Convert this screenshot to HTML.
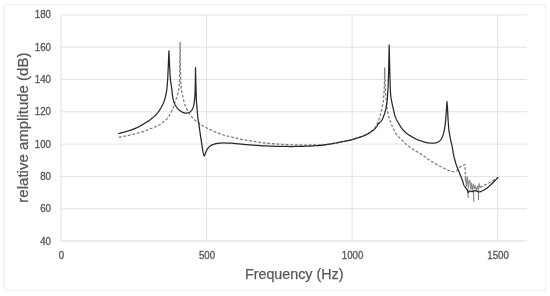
<!DOCTYPE html>
<html><head><meta charset="utf-8"><style>
html,body{margin:0;padding:0;background:#fff;}
svg{display:block;will-change:transform;}
text{font-family:"Liberation Sans",sans-serif;}
</style></head><body>
<svg width="550" height="296" viewBox="0 0 550 296">
<rect x="0" y="0" width="550" height="296" fill="#fff"/>
<rect x="4" y="4.5" width="541.5" height="286.2" rx="2" fill="none" stroke="#efefef" stroke-width="1.2"/>
<g stroke="#e3e3e3" stroke-width="1" fill="none">
<line x1="61" y1="208.70" x2="527" y2="208.70"/><line x1="61" y1="176.40" x2="527" y2="176.40"/><line x1="61" y1="144.10" x2="527" y2="144.10"/><line x1="61" y1="111.80" x2="527" y2="111.80"/><line x1="61" y1="79.50" x2="527" y2="79.50"/><line x1="61" y1="47.20" x2="527" y2="47.20"/><line x1="61" y1="14.90" x2="527" y2="14.90"/><line x1="206.62" y1="14.90" x2="206.62" y2="241.00"/><line x1="352.15" y1="14.90" x2="352.15" y2="241.00"/><line x1="497.68" y1="14.90" x2="497.68" y2="241.00"/>
</g>
<line x1="61.10" y1="14.90" x2="61.10" y2="241.00" stroke="#e0e0e0" stroke-width="1"/>
<line x1="61" y1="241.00" x2="527" y2="241.00" stroke="#d9d9d9" stroke-width="1"/>
<g fill="#595959" font-size="9.7" stroke="#595959" stroke-width="0.3">
<text transform="translate(51.0,244.50) scale(1,1.13)" text-anchor="end">40</text><text transform="translate(51.0,212.20) scale(1,1.13)" text-anchor="end">60</text><text transform="translate(51.0,179.90) scale(1,1.13)" text-anchor="end">80</text><text transform="translate(51.0,147.60) scale(1,1.13)" text-anchor="end">100</text><text transform="translate(51.0,115.30) scale(1,1.13)" text-anchor="end">120</text><text transform="translate(51.0,83.00) scale(1,1.13)" text-anchor="end">140</text><text transform="translate(51.0,50.70) scale(1,1.13)" text-anchor="end">160</text><text transform="translate(51.0,18.40) scale(1,1.13)" text-anchor="end">180</text>
<text transform="translate(61.50,258.5) scale(1,1.09)" text-anchor="middle">0</text><text transform="translate(207.02,258.5) scale(1,1.09)" text-anchor="middle">500</text><text transform="translate(352.55,258.5) scale(1,1.09)" text-anchor="middle">1000</text><text transform="translate(498.07,258.5) scale(1,1.09)" text-anchor="middle">1500</text>
</g>
<text x="294.2" y="278.7" text-anchor="middle" font-size="14.3" fill="#595959" stroke="#595959" stroke-width="0.25">Frequency (Hz)</text>
<text transform="translate(28.3,127.6) rotate(-90)" text-anchor="middle" font-size="15" fill="#595959" stroke="#595959" stroke-width="0.25">relative amplitude (dB)</text>
<g fill="none" stroke-linejoin="round" stroke-linecap="round">
<polyline points="118.80,137.30 119.58,137.15 120.34,137.01 121.10,136.87 121.86,136.73 122.63,136.59 123.42,136.44 124.24,136.28 125.10,136.10 126.26,135.86 127.48,135.60 128.75,135.33 130.06,135.05 131.38,134.75 132.70,134.44 134.02,134.13 135.30,133.80 136.60,133.46 137.93,133.09 139.28,132.71 140.61,132.33 141.91,131.93 143.16,131.55 144.33,131.17 145.40,130.80 146.07,130.56 146.68,130.31 147.27,130.07 147.82,129.83 148.36,129.59 148.90,129.36 149.44,129.13 150.00,128.90 150.56,128.68 151.13,128.47 151.69,128.27 152.25,128.07 152.82,127.86 153.38,127.65 153.94,127.43 154.50,127.20 155.07,126.96 155.65,126.72 156.22,126.47 156.78,126.22 157.36,125.95 157.93,125.66 158.51,125.35 159.10,125.00 159.85,124.50 160.64,123.93 161.45,123.31 162.25,122.66 163.04,122.01 163.79,121.38 164.48,120.80 165.10,120.30 165.44,120.03 165.76,119.80 166.05,119.58 166.33,119.38 166.60,119.17 166.86,118.94 167.13,118.69 167.40,118.40 167.76,117.96 168.12,117.47 168.48,116.95 168.83,116.39 169.17,115.81 169.52,115.22 169.86,114.61 170.20,114.00 170.59,113.29 170.99,112.55 171.38,111.78 171.77,111.00 172.15,110.21 172.52,109.41 172.87,108.60 173.20,107.80 173.51,106.97 173.80,106.11 174.07,105.23 174.32,104.35 174.57,103.48 174.81,102.64 175.06,101.84 175.30,101.10 175.48,100.61 175.66,100.16 175.83,99.75 176.01,99.34 176.18,98.93 176.35,98.50 176.52,98.03 176.70,97.50 176.99,96.56 177.30,95.53 177.62,94.42 177.94,93.24 178.24,92.00 178.53,90.71 178.78,89.37 179.00,88.00 179.22,86.06 179.38,84.00 179.48,81.85 179.55,79.61 179.58,77.29 179.61,74.91 179.65,72.47 179.70,70.00 179.77,66.83 179.84,63.51 179.89,60.08 179.93,56.57 179.97,53.01 180.01,49.44 180.05,45.89 180.10,42.40 180.15,45.89 180.19,49.44 180.23,53.01 180.27,56.57 180.31,60.08 180.36,63.51 180.43,66.83 180.50,70.00 180.56,72.49 180.61,74.96 180.66,77.40 180.73,79.76 180.80,82.03 180.90,84.17 181.03,86.17 181.20,88.00 181.33,89.05 181.47,90.01 181.63,90.91 181.79,91.76 181.96,92.59 182.14,93.41 182.32,94.24 182.50,95.10 182.68,96.00 182.87,96.92 183.06,97.84 183.26,98.76 183.46,99.67 183.67,100.55 183.88,101.40 184.10,102.20 184.27,102.81 184.45,103.39 184.62,103.95 184.80,104.49 184.98,105.02 185.18,105.55 185.38,106.07 185.60,106.60 185.83,107.13 186.07,107.64 186.32,108.16 186.58,108.66 186.85,109.17 187.13,109.68 187.41,110.19 187.70,110.70 188.01,111.25 188.33,111.80 188.65,112.36 188.98,112.92 189.32,113.47 189.67,114.02 190.03,114.57 190.40,115.10 190.79,115.64 191.19,116.18 191.61,116.72 192.03,117.25 192.47,117.76 192.91,118.27 193.35,118.75 193.80,119.20 194.21,119.58 194.63,119.95 195.05,120.29 195.48,120.63 195.91,120.95 196.34,121.26 196.77,121.58 197.20,121.90 197.63,122.21 198.06,122.52 198.49,122.83 198.93,123.14 199.36,123.43 199.79,123.73 200.20,124.02 200.60,124.30 200.92,124.54 201.23,124.77 201.52,124.99 201.81,125.21 202.10,125.43 202.41,125.65 202.74,125.88 203.10,126.10 203.64,126.41 204.24,126.72 204.87,127.03 205.53,127.35 206.20,127.66 206.88,127.97 207.55,128.29 208.20,128.60 208.84,128.92 209.47,129.24 210.11,129.56 210.75,129.88 211.38,130.20 212.02,130.51 212.66,130.81 213.30,131.10 213.92,131.37 214.55,131.63 215.18,131.89 215.81,132.14 216.43,132.38 217.06,132.62 217.68,132.86 218.30,133.10 218.88,133.33 219.44,133.56 219.99,133.79 220.54,134.01 221.10,134.24 221.70,134.46 222.32,134.68 223.00,134.90 224.07,135.21 225.23,135.52 226.47,135.82 227.76,136.12 229.08,136.42 230.41,136.71 231.72,137.01 233.00,137.30 234.25,137.60 235.50,137.90 236.75,138.20 238.00,138.50 239.24,138.79 240.50,139.08 241.75,139.35 243.00,139.60 244.25,139.83 245.50,140.05 246.75,140.25 248.00,140.44 249.25,140.63 250.50,140.82 251.75,141.00 253.00,141.20 254.23,141.40 255.44,141.61 256.63,141.82 257.83,142.03 259.05,142.23 260.31,142.43 261.62,142.62 263.00,142.80 264.90,143.02 266.90,143.22 268.98,143.41 271.13,143.59 273.32,143.76 275.54,143.91 277.78,144.06 280.00,144.20 282.42,144.34 284.88,144.48 287.38,144.60 289.90,144.71 292.43,144.81 294.96,144.89 297.49,144.95 300.00,145.00 302.56,145.03 305.20,145.04 307.87,145.04 310.53,145.02 313.12,144.98 315.59,144.93 317.90,144.87 320.00,144.80 321.24,144.75 322.38,144.70 323.46,144.64 324.48,144.58 325.48,144.51 326.47,144.42 327.47,144.32 328.50,144.20 329.55,144.06 330.61,143.89 331.66,143.71 332.70,143.52 333.75,143.32 334.80,143.11 335.85,142.90 336.90,142.70 337.98,142.49 339.08,142.28 340.20,142.05 341.31,141.83 342.40,141.61 343.46,141.39 344.46,141.19 345.40,141.00 346.05,140.87 346.67,140.76 347.27,140.65 347.85,140.54 348.41,140.44 348.95,140.33 349.48,140.22 350.00,140.10 350.41,140.00 350.80,139.89 351.18,139.78 351.54,139.67 351.91,139.56 352.29,139.45 352.68,139.33 353.10,139.20 353.67,139.03 354.27,138.86 354.89,138.68 355.53,138.49 356.17,138.30 356.82,138.10 357.47,137.90 358.10,137.70 358.74,137.49 359.38,137.28 360.02,137.07 360.66,136.86 361.30,136.63 361.93,136.40 362.57,136.16 363.20,135.90 363.85,135.62 364.51,135.34 365.17,135.04 365.82,134.73 366.47,134.41 367.10,134.08 367.71,133.75 368.30,133.40 368.81,133.08 369.29,132.75 369.77,132.42 370.23,132.08 370.68,131.72 371.12,131.36 371.56,130.99 372.00,130.60 372.46,130.18 372.93,129.76 373.39,129.32 373.84,128.87 374.28,128.41 374.71,127.93 375.12,127.42 375.50,126.90 375.89,126.30 376.26,125.66 376.60,124.99 376.93,124.30 377.25,123.61 377.54,122.92 377.83,122.24 378.10,121.60 378.32,121.08 378.52,120.57 378.71,120.09 378.89,119.60 379.07,119.11 379.24,118.60 379.42,118.07 379.60,117.50 379.85,116.69 380.11,115.84 380.37,114.94 380.63,114.01 380.89,113.07 381.14,112.11 381.38,111.15 381.60,110.20 381.82,109.22 382.03,108.23 382.23,107.24 382.42,106.24 382.61,105.23 382.78,104.20 382.94,103.16 383.10,102.10 383.26,100.90 383.41,99.68 383.55,98.44 383.68,97.18 383.80,95.90 383.91,94.62 384.01,93.31 384.10,92.00 384.19,90.55 384.26,89.08 384.31,87.58 384.36,86.07 384.40,84.55 384.43,83.03 384.46,81.51 384.50,80.00 384.53,78.49 384.56,76.98 384.59,75.47 384.61,73.95 384.63,72.44 384.65,70.93 384.68,69.41 384.70,67.90 384.76,70.07 384.82,72.28 384.87,74.51 384.93,76.74 384.99,78.92 385.05,81.05 385.12,83.08 385.20,85.00 385.26,86.38 385.33,87.70 385.40,88.97 385.47,90.20 385.55,91.41 385.63,92.60 385.71,93.79 385.80,95.00 385.89,96.16 385.98,97.32 386.08,98.48 386.18,99.62 386.28,100.75 386.38,101.87 386.49,102.95 386.60,104.00 386.69,104.87 386.78,105.72 386.88,106.55 386.97,107.37 387.07,108.17 387.17,108.96 387.28,109.73 387.40,110.50 387.51,111.17 387.62,111.83 387.73,112.48 387.85,113.12 387.97,113.75 388.10,114.37 388.24,114.99 388.40,115.60 388.56,116.17 388.74,116.73 388.92,117.28 389.11,117.82 389.31,118.37 389.51,118.91 389.71,119.45 389.90,120.00 390.09,120.56 390.28,121.11 390.46,121.66 390.65,122.21 390.84,122.77 391.05,123.34 391.27,123.91 391.50,124.50 391.80,125.22 392.12,125.97 392.46,126.74 392.82,127.51 393.18,128.29 393.55,129.05 393.93,129.79 394.30,130.50 394.63,131.11 394.95,131.71 395.27,132.29 395.59,132.86 395.93,133.42 396.29,133.98 396.68,134.54 397.10,135.10 397.63,135.75 398.21,136.39 398.83,137.04 399.47,137.67 400.13,138.31 400.80,138.94 401.46,139.57 402.10,140.20 402.73,140.83 403.36,141.46 403.99,142.10 404.62,142.73 405.26,143.35 405.90,143.96 406.55,144.54 407.20,145.10 407.82,145.60 408.45,146.08 409.09,146.54 409.73,146.98 410.37,147.42 411.02,147.85 411.66,148.27 412.30,148.70 412.92,149.12 413.55,149.53 414.18,149.94 414.80,150.34 415.43,150.74 416.06,151.13 416.68,151.52 417.30,151.90 417.89,152.25 418.47,152.57 419.05,152.89 419.63,153.20 420.21,153.52 420.80,153.86 421.39,154.21 422.00,154.60 422.72,155.10 423.44,155.64 424.16,156.20 424.90,156.79 425.65,157.39 426.43,158.00 427.25,158.60 428.10,159.20 429.24,159.95 430.44,160.72 431.71,161.50 433.01,162.29 434.34,163.07 435.67,163.83 437.00,164.58 438.30,165.30 439.58,165.99 440.92,166.70 442.27,167.40 443.62,168.08 444.93,168.73 446.18,169.32 447.35,169.85 448.40,170.30 448.98,170.54 449.53,170.76 450.04,170.96 450.53,171.14 451.00,171.30 451.47,171.43 451.93,171.53 452.40,171.60 452.81,171.63 453.23,171.64 453.64,171.62 454.05,171.59 454.44,171.54 454.82,171.47 455.17,171.39 455.50,171.30 455.72,171.23 455.92,171.16 456.10,171.08 456.28,170.99 456.45,170.89 456.63,170.78 456.81,170.65 457.00,170.50 457.32,170.20 457.64,169.82 457.98,169.39 458.32,168.93 458.66,168.47 459.01,168.03 459.36,167.63 459.70,167.30 459.96,167.10 460.22,166.92 460.49,166.77 460.75,166.63 461.01,166.50 461.28,166.37 461.54,166.24 461.80,166.10 462.05,165.95 462.31,165.81 462.57,165.65 462.82,165.50 463.08,165.36 463.33,165.23 463.57,165.11 463.80,165.00 463.97,164.93 464.14,164.87 464.30,164.82 464.46,164.78 464.62,164.73 464.78,164.69 464.94,164.65 465.10,164.60 465.40,181.00" stroke="#7f7f7f" stroke-width="1.3" stroke-dasharray="2.8 1.8" stroke-linecap="butt"/>
<polyline points="465.40,181.00 465.60,176.00 466.40,186.50 467.40,176.50 468.30,188.00 469.20,181.00 470.10,180.50 470.80,189.00 471.50,183.00 472.30,190.50 473.30,184.10 474.20,189.00 475.20,185.50 476.30,191.00 477.40,186.00 478.40,189.50 479.20,183.50 480.10,187.30" stroke="#8c8c8c" stroke-width="1.1"/>
<polyline points="480.10,187.30 480.72,186.99 481.35,186.68 481.97,186.37 482.60,186.05 483.22,185.74 483.85,185.43 484.47,185.12 485.10,184.80 485.74,184.48 486.37,184.16 487.01,183.85 487.65,183.53 488.29,183.20 488.93,182.88 489.57,182.54 490.20,182.20 490.85,181.84 491.52,181.45 492.20,181.06 492.87,180.66 493.52,180.27 494.15,179.89 494.75,179.53 495.30,179.20 495.66,178.99 495.99,178.79 496.30,178.60 496.61,178.42 496.90,178.24 497.20,178.06 497.49,177.88 497.80,177.70" stroke="#7f7f7f" stroke-width="1.3" stroke-dasharray="2.8 1.8" stroke-linecap="butt"/>
<polyline points="467.90,189.50 468.10,197.70" stroke="#707070" stroke-width="1.0"/><polyline points="473.60,190.50 473.80,201.40" stroke="#707070" stroke-width="1.0"/><polyline points="478.30,190.50 478.50,199.50" stroke="#707070" stroke-width="1.0"/>
<polyline points="118.80,133.60 119.59,133.37 120.39,133.15 121.19,132.92 121.99,132.69 122.79,132.46 123.57,132.24 124.34,132.02 125.10,131.80 125.76,131.61 126.41,131.43 127.05,131.25 127.69,131.07 128.32,130.88 128.94,130.70 129.57,130.50 130.20,130.30 130.84,130.09 131.48,129.87 132.12,129.64 132.76,129.41 133.40,129.17 134.03,128.93 134.67,128.67 135.30,128.40 135.95,128.11 136.61,127.80 137.26,127.49 137.92,127.17 138.57,126.83 139.22,126.49 139.86,126.15 140.50,125.80 141.13,125.45 141.76,125.09 142.39,124.72 143.01,124.35 143.63,123.97 144.25,123.58 144.87,123.19 145.50,122.80 146.16,122.38 146.83,121.97 147.51,121.54 148.18,121.11 148.85,120.67 149.52,120.23 150.17,119.77 150.80,119.30 151.41,118.83 152.01,118.36 152.60,117.87 153.18,117.38 153.75,116.88 154.31,116.36 154.86,115.84 155.40,115.30 155.93,114.75 156.45,114.19 156.95,113.62 157.45,113.03 157.93,112.44 158.40,111.83 158.86,111.22 159.30,110.60 159.72,109.97 160.13,109.32 160.53,108.66 160.91,107.99 161.27,107.31 161.63,106.64 161.97,105.97 162.30,105.30 162.60,104.67 162.89,104.04 163.18,103.41 163.45,102.78 163.70,102.15 163.95,101.53 164.18,100.91 164.40,100.30 164.58,99.75 164.75,99.22 164.91,98.69 165.06,98.16 165.20,97.63 165.33,97.10 165.47,96.55 165.60,96.00 165.74,95.41 165.88,94.81 166.01,94.22 166.14,93.62 166.26,93.00 166.38,92.37 166.49,91.70 166.60,91.00 166.74,90.02 166.87,88.98 166.99,87.91 167.10,86.79 167.21,85.64 167.31,84.45 167.41,83.24 167.50,82.00 167.61,80.41 167.71,78.75 167.80,77.04 167.88,75.28 167.96,73.49 168.04,71.67 168.12,69.84 168.20,68.00 168.29,65.93 168.38,63.82 168.47,61.68 168.55,59.51 168.64,57.33 168.73,55.14 168.81,52.96 168.90,50.80 169.00,52.97 169.10,55.17 169.19,57.38 169.29,59.58 169.39,61.77 169.49,63.91 169.59,65.99 169.70,68.00 169.79,69.64 169.87,71.26 169.96,72.84 170.05,74.39 170.14,75.90 170.25,77.38 170.36,78.81 170.50,80.20 170.63,81.30 170.77,82.36 170.93,83.38 171.09,84.38 171.25,85.37 171.41,86.35 171.56,87.32 171.70,88.30 171.81,89.23 171.91,90.16 172.01,91.10 172.10,92.02 172.19,92.93 172.28,93.81 172.39,94.67 172.50,95.50 172.60,96.15 172.69,96.77 172.78,97.38 172.88,97.97 172.98,98.55 173.10,99.13 173.24,99.71 173.40,100.30 173.58,100.91 173.78,101.53 173.99,102.14 174.22,102.75 174.46,103.36 174.72,103.95 175.00,104.53 175.30,105.10 175.62,105.65 175.96,106.21 176.32,106.75 176.70,107.28 177.08,107.80 177.48,108.29 177.89,108.76 178.30,109.20 178.67,109.56 179.06,109.91 179.45,110.24 179.86,110.55 180.26,110.84 180.65,111.11 181.03,111.37 181.40,111.60 181.66,111.76 181.91,111.91 182.15,112.05 182.39,112.17 182.63,112.29 182.87,112.40 183.13,112.50 183.40,112.60 183.73,112.71 184.08,112.83 184.44,112.93 184.80,113.03 185.18,113.11 185.55,113.17 185.93,113.20 186.30,113.20 186.70,113.17 187.11,113.10 187.52,113.01 187.94,112.89 188.35,112.75 188.75,112.59 189.14,112.40 189.50,112.20 189.86,111.96 190.21,111.70 190.54,111.41 190.86,111.10 191.17,110.77 191.47,110.42 191.74,110.06 192.00,109.70 192.24,109.32 192.47,108.93 192.67,108.53 192.85,108.11 193.03,107.67 193.19,107.21 193.35,106.72 193.50,106.20 193.71,105.36 193.90,104.45 194.07,103.46 194.22,102.43 194.35,101.36 194.48,100.27 194.59,99.18 194.70,98.10 194.81,96.92 194.89,95.74 194.96,94.55 195.02,93.34 195.07,92.10 195.11,90.80 195.15,89.44 195.20,88.00 195.26,85.79 195.31,83.40 195.35,80.87 195.38,78.24 195.41,75.56 195.44,72.87 195.47,70.20 195.50,67.60 195.56,70.19 195.62,72.82 195.69,75.48 195.75,78.13 195.81,80.74 195.87,83.27 195.94,85.70 196.00,88.00 196.05,89.67 196.09,91.27 196.13,92.81 196.17,94.31 196.21,95.78 196.27,97.22 196.33,98.66 196.40,100.10 196.48,101.42 196.57,102.74 196.67,104.04 196.77,105.33 196.87,106.60 196.98,107.85 197.09,109.08 197.20,110.30 197.29,111.37 197.39,112.43 197.48,113.47 197.57,114.50 197.67,115.51 197.77,116.52 197.88,117.51 198.00,118.50 198.12,119.40 198.25,120.28 198.39,121.15 198.54,122.01 198.68,122.88 198.83,123.74 198.97,124.61 199.10,125.50 199.23,126.44 199.36,127.40 199.48,128.36 199.60,129.33 199.72,130.30 199.84,131.27 199.97,132.24 200.10,133.20 200.24,134.14 200.38,135.08 200.53,136.00 200.68,136.93 200.83,137.87 200.98,138.82 201.14,139.79 201.30,140.80 201.49,142.05 201.68,143.38 201.88,144.75 202.08,146.14 202.28,147.52 202.48,148.84 202.69,150.08 202.90,151.20 203.05,151.90 203.19,152.56 203.34,153.18 203.50,153.77 203.65,154.35 203.80,154.92 203.95,155.50 204.10,156.10 204.23,155.88 204.35,155.66 204.48,155.45 204.61,155.23 204.74,155.01 204.86,154.79 204.98,154.55 205.10,154.30 205.23,153.98 205.35,153.63 205.46,153.27 205.57,152.91 205.68,152.53 205.80,152.15 205.94,151.77 206.10,151.40 206.31,150.96 206.53,150.51 206.77,150.06 207.03,149.60 207.30,149.15 207.58,148.71 207.88,148.29 208.20,147.90 208.52,147.54 208.86,147.19 209.22,146.85 209.59,146.53 209.97,146.23 210.37,145.94 210.78,145.66 211.20,145.40 211.66,145.14 212.15,144.90 212.64,144.68 213.16,144.48 213.68,144.29 214.21,144.11 214.75,143.95 215.30,143.80 215.90,143.66 216.51,143.54 217.13,143.43 217.77,143.35 218.41,143.27 219.04,143.21 219.68,143.15 220.30,143.10 220.88,143.06 221.45,143.03 222.02,143.01 222.58,143.00 223.15,142.99 223.74,142.99 224.35,142.99 225.00,143.00 225.89,143.01 226.83,143.03 227.81,143.05 228.81,143.08 229.84,143.13 230.89,143.17 231.94,143.23 233.00,143.30 234.20,143.39 235.42,143.51 236.67,143.63 237.93,143.77 239.20,143.91 240.47,144.05 241.74,144.18 243.00,144.30 244.25,144.41 245.50,144.52 246.75,144.62 248.00,144.72 249.25,144.82 250.50,144.91 251.75,145.01 253.00,145.10 254.23,145.19 255.44,145.29 256.63,145.38 257.83,145.47 259.06,145.56 260.31,145.64 261.62,145.72 263.00,145.80 264.90,145.90 266.90,145.99 268.98,146.08 271.13,146.16 273.33,146.23 275.55,146.30 277.78,146.35 280.00,146.40 282.42,146.44 284.89,146.47 287.38,146.49 289.90,146.50 292.43,146.50 294.96,146.49 297.49,146.45 300.00,146.40 302.56,146.33 305.20,146.24 307.87,146.13 310.53,146.01 313.12,145.88 315.60,145.73 317.91,145.57 320.00,145.40 321.24,145.28 322.38,145.16 323.46,145.03 324.48,144.90 325.48,144.76 326.47,144.61 327.47,144.46 328.50,144.30 329.55,144.13 330.60,143.96 331.65,143.78 332.70,143.59 333.75,143.39 334.80,143.20 335.85,143.00 336.90,142.80 337.98,142.59 339.08,142.38 340.20,142.15 341.31,141.93 342.40,141.71 343.46,141.49 344.46,141.29 345.40,141.10 346.05,140.97 346.67,140.86 347.27,140.75 347.85,140.64 348.41,140.54 348.95,140.43 349.48,140.32 350.00,140.20 350.41,140.10 350.80,139.99 351.18,139.88 351.54,139.77 351.91,139.66 352.29,139.55 352.68,139.43 353.10,139.30 353.67,139.13 354.27,138.96 354.89,138.78 355.53,138.59 356.17,138.40 356.82,138.20 357.47,138.00 358.10,137.80 358.74,137.59 359.38,137.38 360.02,137.17 360.66,136.95 361.29,136.73 361.93,136.49 362.57,136.25 363.20,136.00 363.84,135.73 364.49,135.46 365.13,135.18 365.77,134.89 366.41,134.59 367.05,134.27 367.68,133.95 368.30,133.60 368.95,133.22 369.61,132.82 370.26,132.41 370.91,131.98 371.55,131.54 372.16,131.10 372.75,130.65 373.30,130.20 373.75,129.81 374.18,129.42 374.59,129.03 374.99,128.63 375.37,128.23 375.73,127.82 376.07,127.41 376.40,127.00 376.66,126.63 376.89,126.26 377.10,125.88 377.30,125.51 377.49,125.13 377.70,124.75 377.94,124.37 378.20,124.00 378.56,123.59 378.95,123.19 379.37,122.81 379.81,122.43 380.26,122.03 380.69,121.60 381.11,121.13 381.50,120.60 382.00,119.79 382.47,118.89 382.93,117.91 383.37,116.88 383.78,115.81 384.18,114.71 384.55,113.60 384.90,112.50 385.25,111.27 385.58,110.01 385.87,108.71 386.14,107.39 386.38,106.06 386.61,104.73 386.81,103.41 387.00,102.10 387.16,100.85 387.29,99.63 387.40,98.42 387.49,97.21 387.57,95.98 387.64,94.71 387.72,93.39 387.80,92.00 387.91,90.12 388.01,88.17 388.10,86.16 388.18,84.08 388.27,81.92 388.34,79.69 388.42,77.38 388.50,75.00 388.60,71.66 388.69,68.10 388.78,64.37 388.87,60.53 388.95,56.62 389.03,52.70 389.11,48.81 389.20,45.00 389.29,48.79 389.37,52.64 389.45,56.52 389.53,60.38 389.61,64.19 389.70,67.93 389.80,71.54 389.90,75.00 389.98,77.76 390.06,80.52 390.13,83.24 390.21,85.89 390.30,88.42 390.40,90.81 390.54,93.02 390.70,95.00 390.81,96.06 390.93,97.02 391.05,97.91 391.19,98.75 391.33,99.57 391.48,100.38 391.63,101.22 391.80,102.10 392.00,103.11 392.22,104.15 392.45,105.21 392.69,106.27 392.93,107.32 393.17,108.34 393.40,109.30 393.60,110.20 393.73,110.81 393.86,111.39 393.97,111.95 394.08,112.48 394.19,113.01 394.31,113.53 394.45,114.06 394.60,114.60 394.78,115.18 394.97,115.78 395.18,116.38 395.39,116.98 395.61,117.57 395.84,118.14 396.07,118.69 396.30,119.20 396.49,119.59 396.69,119.96 396.88,120.31 397.08,120.65 397.29,120.98 397.49,121.31 397.70,121.65 397.90,122.00 398.11,122.37 398.31,122.73 398.52,123.10 398.72,123.47 398.93,123.85 399.14,124.22 399.37,124.61 399.60,125.00 399.88,125.47 400.15,125.94 400.43,126.43 400.72,126.92 401.03,127.41 401.36,127.91 401.71,128.41 402.10,128.90 402.63,129.52 403.21,130.15 403.83,130.80 404.48,131.44 405.16,132.07 405.84,132.68 406.53,133.26 407.20,133.80 407.82,134.26 408.45,134.70 409.08,135.12 409.72,135.51 410.37,135.89 411.01,136.27 411.66,136.63 412.30,137.00 412.92,137.35 413.55,137.71 414.17,138.05 414.80,138.39 415.42,138.71 416.05,139.03 416.67,139.32 417.30,139.60 417.89,139.84 418.49,140.06 419.10,140.27 419.70,140.47 420.30,140.66 420.88,140.84 421.45,141.02 422.00,141.20 422.43,141.35 422.85,141.50 423.25,141.65 423.64,141.79 424.03,141.93 424.43,142.06 424.85,142.18 425.30,142.30 425.87,142.43 426.47,142.56 427.09,142.68 427.73,142.79 428.37,142.89 429.02,142.98 429.66,143.05 430.30,143.10 430.95,143.14 431.62,143.17 432.30,143.19 432.98,143.19 433.65,143.17 434.28,143.14 434.87,143.08 435.40,143.00 435.73,142.93 436.03,142.85 436.31,142.76 436.58,142.66 436.84,142.56 437.09,142.44 437.34,142.32 437.60,142.20 437.85,142.08 438.10,141.95 438.34,141.82 438.58,141.68 438.81,141.53 439.04,141.37 439.27,141.20 439.50,141.00 439.78,140.73 440.06,140.44 440.33,140.12 440.60,139.79 440.87,139.43 441.12,139.07 441.37,138.69 441.60,138.30 441.85,137.84 442.09,137.36 442.32,136.86 442.54,136.34 442.74,135.81 442.94,135.28 443.12,134.74 443.30,134.20 443.47,133.63 443.63,133.06 443.78,132.48 443.91,131.89 444.04,131.29 444.16,130.70 444.28,130.10 444.40,129.50 444.52,128.89 444.63,128.28 444.74,127.67 444.84,127.05 444.93,126.43 445.03,125.80 445.11,125.16 445.20,124.50 445.29,123.73 445.37,122.95 445.45,122.16 445.52,121.35 445.59,120.53 445.66,119.69 445.73,118.85 445.80,118.00 445.88,117.04 445.96,116.06 446.03,115.07 446.11,114.06 446.18,113.05 446.25,112.03 446.33,111.02 446.40,110.00 446.48,108.96 446.55,107.91 446.63,106.87 446.70,105.81 446.78,104.76 446.85,103.70 446.93,102.65 447.00,101.60 447.08,102.64 447.15,103.67 447.23,104.69 447.31,105.72 447.38,106.75 447.46,107.81 447.53,108.89 447.60,110.00 447.68,111.35 447.75,112.76 447.81,114.20 447.88,115.67 447.95,117.14 448.02,118.62 448.10,120.07 448.20,121.50 448.30,122.86 448.40,124.22 448.51,125.57 448.63,126.92 448.75,128.25 448.89,129.56 449.04,130.85 449.20,132.10 449.36,133.17 449.53,134.22 449.71,135.25 449.90,136.26 450.10,137.25 450.30,138.24 450.50,139.22 450.70,140.20 450.89,141.11 451.10,142.01 451.31,142.91 451.52,143.79 451.73,144.67 451.93,145.55 452.12,146.42 452.30,147.30 452.45,148.15 452.59,148.99 452.72,149.83 452.85,150.67 452.97,151.51 453.10,152.34 453.24,153.17 453.40,154.00 453.57,154.82 453.76,155.64 453.95,156.45 454.14,157.26 454.35,158.07 454.56,158.88 454.78,159.69 455.00,160.50 455.23,161.33 455.47,162.18 455.72,163.05 455.98,163.90 456.24,164.74 456.49,165.54 456.75,166.30 457.00,167.00 457.18,167.46 457.35,167.88 457.53,168.27 457.70,168.65 457.87,169.03 458.05,169.40 458.22,169.79 458.40,170.20 458.60,170.68 458.80,171.17 459.00,171.67 459.20,172.17 459.40,172.68 459.60,173.19 459.80,173.70 460.00,174.20 460.20,174.70 460.41,175.22 460.62,175.73 460.83,176.24 461.03,176.75 461.23,177.25 461.42,177.73 461.60,178.20 461.74,178.57 461.87,178.92 461.99,179.26 462.11,179.59 462.23,179.93 462.35,180.27 462.47,180.63 462.60,181.00 462.76,181.49 462.92,182.01 463.08,182.56 463.24,183.11 463.41,183.66 463.59,184.20 463.79,184.72 464.00,185.20 464.20,185.59 464.41,185.97 464.64,186.34 464.87,186.69 465.11,187.03 465.35,187.37 465.58,187.69 465.80,188.00 465.98,188.24 466.16,188.47 466.35,188.69 466.53,188.90 466.70,189.11 466.87,189.32 467.04,189.55 467.20,189.80 467.37,190.14 467.53,190.55 467.68,190.99 467.82,191.43 467.97,191.84 468.11,192.17 468.25,192.41 468.40,192.50 468.51,192.46 468.61,192.34 468.70,192.15 468.80,191.94 468.91,191.71 469.02,191.49 469.15,191.32 469.30,191.20 469.48,191.14 469.68,191.11 469.90,191.12 470.13,191.14 470.36,191.17 470.59,191.22 470.80,191.26 471.00,191.30 471.14,191.33 471.26,191.38 471.38,191.42 471.50,191.48 471.61,191.52 471.73,191.56 471.86,191.59 472.00,191.60 472.22,191.58 472.45,191.53 472.70,191.45 472.95,191.35 473.21,191.25 473.48,191.15 473.74,191.06 474.00,191.00 474.26,190.95 474.52,190.90 474.79,190.85 475.06,190.81 475.32,190.78 475.59,190.77 475.85,190.77 476.10,190.80 476.35,190.86 476.58,190.94 476.82,191.05 477.05,191.17 477.29,191.29 477.52,191.41 477.76,191.52 478.00,191.60 478.25,191.67 478.51,191.73 478.77,191.80 479.03,191.85 479.29,191.89 479.54,191.91 479.78,191.92 480.00,191.90 480.15,191.87 480.29,191.83 480.41,191.78 480.53,191.71 480.66,191.64 480.79,191.57 480.93,191.49 481.10,191.40 481.48,191.22 481.92,191.01 482.41,190.77 482.93,190.51 483.47,190.24 484.03,189.94 484.57,189.63 485.10,189.30 485.73,188.88 486.37,188.42 487.02,187.93 487.68,187.42 488.33,186.90 488.97,186.36 489.60,185.83 490.20,185.30 490.75,184.80 491.28,184.29 491.80,183.77 492.31,183.25 492.82,182.73 493.31,182.21 493.81,181.70 494.30,181.20 494.75,180.75 495.19,180.31 495.63,179.87 496.07,179.43 496.50,179.00 496.93,178.57 497.36,178.14 497.80,177.70" stroke="#262626" stroke-width="1.25"/>
</g>
</svg>
</body></html>
